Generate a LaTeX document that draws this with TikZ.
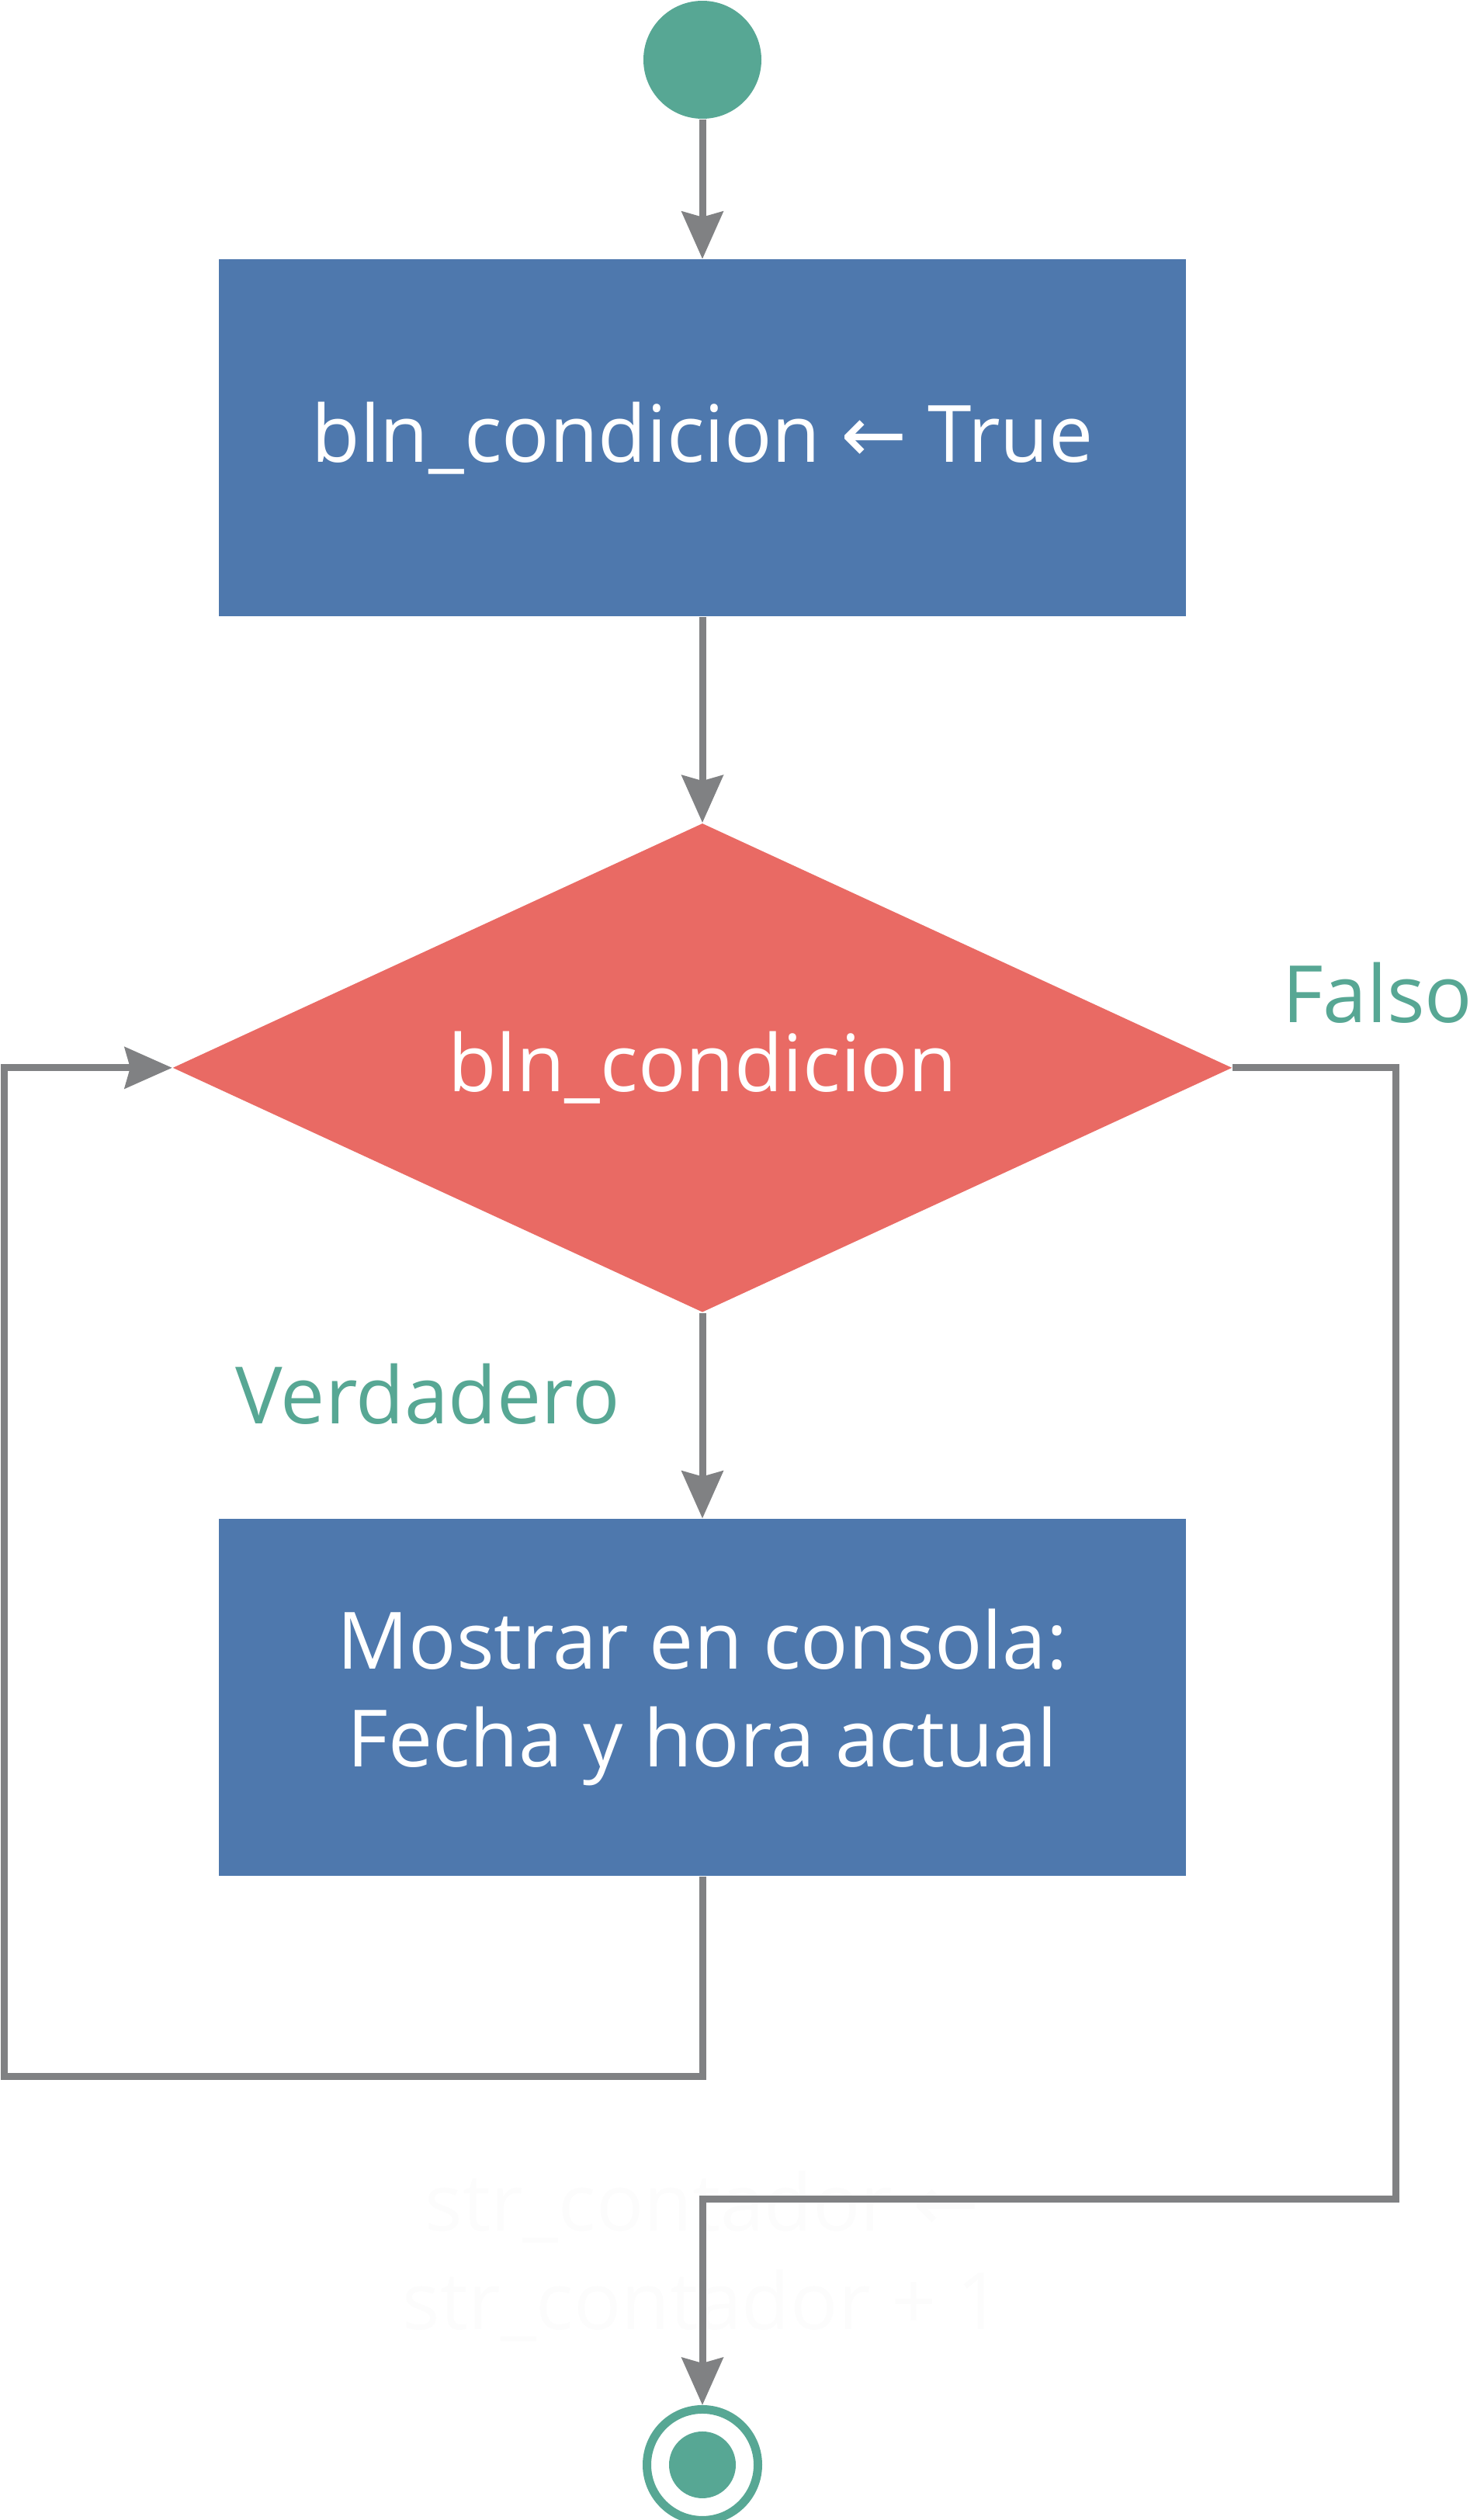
\documentclass[tikz,border=0pt]{standalone}
\usepackage{fontspec}
\setmainfont{Open Sans}
\newfontfamily\simbolos{DejaVu Sans}
\usepackage{tikz}
\usetikzlibrary{arrows.meta, positioning, shapes.geometric}

\definecolor{azul}{RGB}{78,120,173}
\definecolor{rojo}{RGB}{233,106,100}
\definecolor{verde}{RGB}{87,167,148}
\definecolor{gris}{RGB}{128,129,131}
\definecolor{casiblanco}{RGB}{252,252,252}

\begin{document}
\begin{tikzpicture}[
        node distance=2.65cm,
        every node/.style={font=\fontsize{29}{36}\selectfont},
        inicial/.style={circle, fill=verde, minimum size=1.52cm, inner sep=0pt},
        final/.style={circle, draw=verde, line width=0.11cm, fill=white, minimum size=1.43cm, inner sep=0pt},
        finalcentro/.style={circle, fill=verde, minimum size=0.86cm, inner sep=0pt},
        proceso/.style={rectangle, fill=azul, text=white, minimum width=12.46cm, minimum height=4.60cm, align=center, inner sep=0pt},
        rombo/.style={diamond, shape aspect=2.17, fill=rojo, text=white, minimum width=13.65cm, minimum height=6.30cm, inner sep=0pt},
        etiqueta/.style={text=verde, inner sep=0pt},
        fantasma/.style={text=casiblanco, align=center, inner sep=0pt},
        flecha/.style={-{Stealth[length=0.61cm, width=0.53cm, inset=0.07cm]}, draw=gris, line width=0.09cm}
    ]
    \useasboundingbox (0,0) rectangle (19.03,-32.47);

    % Nodes
    \node[inicial] (inicio) at (9.05,-0.77) {};
    \node[proceso, below=1.80cm of inicio] (asignar) {bln\_condicion {\simbolos ←} True};
    \node[rombo, below=of asignar] (cond) {bln\_condicion};
    \node[proceso, below=of cond] (mostrar) {Mostrar en consola:\\Fecha y hora actual};
    \node[final, below=6.81cm of mostrar] (fin) {};
    \node[finalcentro] (fincentro) at (fin) {};
    \node[fantasma] (incremento) at (9.05,-29.07) {str\_contador {\simbolos ←}\\str\_contador + 1};

    % Labels
    \node[etiqueta, anchor=base east] (falso) at (18.98,-13.17) {Falso};
    \node[etiqueta, anchor=base] (verdadero) at (5.51,-18.34) {Verdadero};

    % Corners
    \coordinate (retorno) at (0.06,-26.75);
    \coordinate (salida) at (17.98,-28.33);

    % Arrows
    \draw[flecha] (inicio) -- (asignar);
    \draw[flecha] (asignar) -- (cond);
    \draw[flecha] (cond) -- (mostrar);
    \draw[flecha] (mostrar.south) |- (retorno) |- (cond.west);
    \draw[flecha] (cond.east) -| (salida) -| (fin.north);

\end{tikzpicture}
\end{document}
